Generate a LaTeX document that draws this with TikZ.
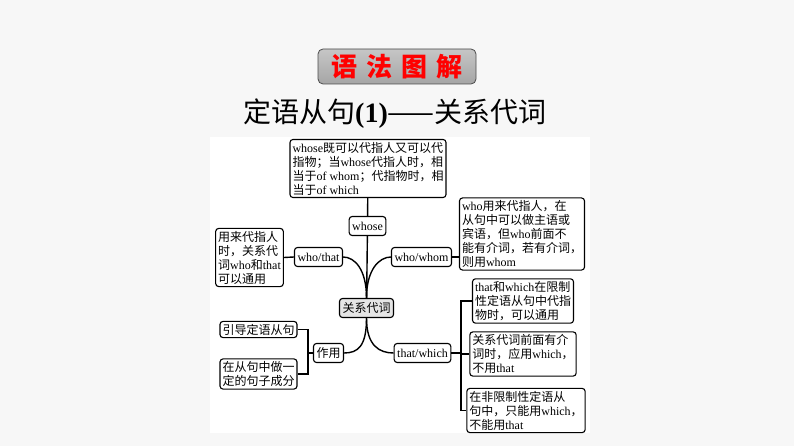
\documentclass[tikz,border=0pt]{standalone}
\usepackage{fontspec}
\setmainfont{Liberation Serif}
\newfontfamily\cjk{Noto Sans CJK SC}
\newcommand\en[1]{{\rmfamily #1}}

\begin{document}
\begin{tikzpicture}[x=1pt,y=-1pt,
  box/.style={draw, rounded corners=3pt, line width=1.1pt, fill=white, inner sep=2.5pt,
    font=\cjk\fontsize{12}{14}\selectfont, align=left},
  tag/.style={box, minimum height=19pt, inner sep=3pt},
  link/.style={line width=1.4pt}]
% Background and panel
\fill[gray!6] (0,0) rectangle (794,446);
\useasboundingbox (0,0) rectangle (794,446);
\fill[white] (210,137) rectangle (590,433);

% Heading
\node[draw=black!70, line width=0.8pt, rounded corners=5pt, top color=gray!45, bottom color=gray!70,
  minimum width=158pt, minimum height=35pt, text=red] (head) at (397,66.5)
  {\cjk\bfseries\fontsize{26}{26}\selectfont 语\kern9pt法\kern9pt图\kern9pt解};
\node (title) at (395,114) {\cjk\fontsize{28}{28}\selectfont 定语从句\textbf{\rmfamily(1)}——关系代词};

% Upper branches
\node[box] (whosetext) at (368,168.5) {\en{whose}既可以代指人又可以代\\指物；当\en{whose}代指人时，相\\当于\en{of whom}；代指物时，相\\当于\en{of which}};
\node[tag] (whose) at (367.5,226) {\en{whose}};
\node[tag] (whothat) at (318.5,257) {\en{who/that}};
\node[box] (lefttext) at (249.5,257.5) {用来代指人\\时，关系代\\词\en{who}和\en{that}\\可以通用};
\node[tag] (whowhom) at (421.5,257) {\en{who/whom}};
\node[box] (whotext) at (522,234) {\en{who}用来代指人，在\\从句中可以做主语或\\宾语，但\en{who}前面不\\能有介词，若有介词，\\则用\en{whom}};

% Centre
\node[tag, fill=gray!20] (core) at (366.5,308) {关系代词};

% Lower branches
\node[tag] (zuoyong) at (328.5,353) {作用};
\node[box] (guide) at (258.5,329.5) {引导定语从句};
\node[box] (part) at (258.5,374) {在从句中做一\\定的句子成分};
\node[tag] (thatwhich) at (422.5,353) {\en{that/which}};
\node[box] (tw1) at (523,301) {\en{that}和\en{which}在限制\\性定语从句中代指\\物时，可以通用};
\node[box] (tw2) at (523,354) {关系代词前面有介\\词时，应用\en{which}，\\不用\en{that}};
\node[box] (tw3) at (526,410.5) {在非限制性定语从\\句中，只能用\en{which}，\\不能用\en{that}};

% Connectors
\draw[link] (whosetext) -- (whose);
\draw[link] (whose) -- (core);
\draw[link] (core.north) .. controls +(0,-28) and +(12,0) .. (whothat.east);
\draw[link] (core.north) .. controls +(0,-28) and +(-12,0) .. (whowhom.west);
\draw[link] (core.south) .. controls +(0,28) and +(14,0) .. (zuoyong.east);
\draw[link] (core.south) .. controls +(0,28) and +(-14,0) .. (thatwhich.west);
\draw[link] (lefttext.east) -- (whothat.west);
\draw[link] (whowhom.east) -- (whowhom.east -| whotext.west);
\coordinate (zyj) at (308,353);
\draw[link] (zuoyong.west) -- (zyj);
\draw[link] (guide.east) -| (zyj) |- (part.east);
\coordinate (twj) at (461,353);
\draw[link] (thatwhich.east) -- (twj);
\draw[link] (tw1.west) -| (twj) |- (tw3.west);
\draw[link] (tw2.west) -- (tw2.west -| twj);
\end{tikzpicture}
\end{document}
